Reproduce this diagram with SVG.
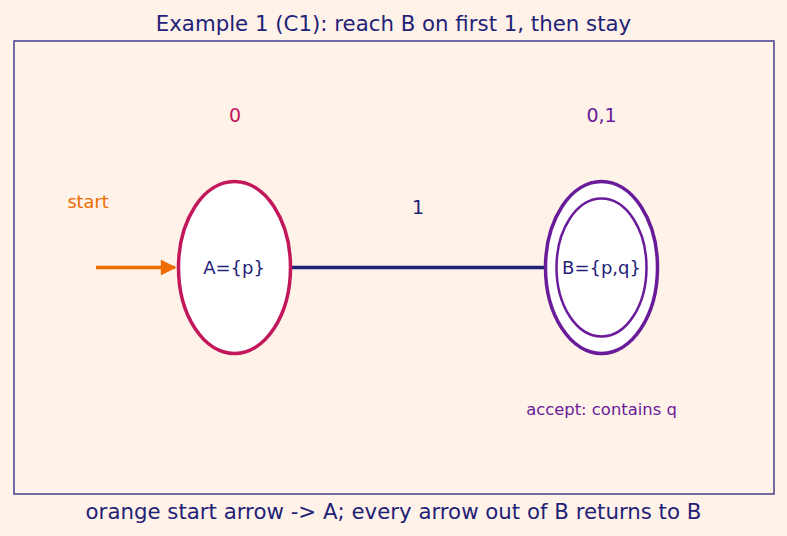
<svg xmlns="http://www.w3.org/2000/svg" width="787" height="536" viewBox="0 0 787 536">
<defs>
<marker id="arr" viewBox="0 0 10 10" refX="9" refY="5" markerWidth="5" markerHeight="4.5" orient="auto" markerUnits="strokeWidth">
<path d="M0,0 L10,5 L0,10 z" fill="#ef6c00"/>
</marker>
<style>
text{font-family:"DejaVu Sans",sans-serif;text-anchor:middle;dominant-baseline:central}
.title{font-size:21.3px;fill:#1f2277}
.lbl{font-size:18px;fill:#1f2277}
</style>
</defs>
<rect x="0" y="0" width="787" height="536" fill="#fff2e8"/>
<text class="title" x="393.5" y="23">Example 1 (C1): reach B on first 1, then stay</text>
<rect x="14" y="41" width="760" height="453" fill="none" stroke="#433f8c" stroke-width="1.5"/>
<g id="connectors">
<line x1="96" y1="267.5" x2="175" y2="267.5" stroke="#ef6c00" stroke-width="3.5" marker-end="url(#arr)"/>
<line x1="291" y1="267.5" x2="545" y2="267.5" stroke="#1f2277" stroke-width="3.5"/>
<text x="418" y="207" style="font-size:19px;fill:#1f2277">1</text>
<text x="88" y="202" style="font-size:17.7px;fill:#ef6c00">start</text>
<text x="235" y="115" style="font-size:19px;fill:#c2185b">0</text>
<text x="601.5" y="115" style="font-size:19px;fill:#6a1b9a">0,1</text>
</g>
<g id="A">
<ellipse cx="234.5" cy="267.5" rx="56" ry="86" fill="#ffffff" stroke="#c2185b" stroke-width="3.5"/>
<text class="lbl" x="234" y="267.5">A={p}</text>
</g>
<g id="B">
<ellipse cx="601.5" cy="267.5" rx="56" ry="86" fill="#ffffff" stroke="#6a1b9a" stroke-width="3.5"/>
<ellipse cx="601.5" cy="267.5" rx="45" ry="69" fill="none" stroke="#6a1b9a" stroke-width="2.5"/>
<text class="lbl" x="601.5" y="267.5">B={p,q}</text>
<text x="601.5" y="409" style="font-size:16.4px;fill:#6a1b9a">accept: contains q</text>
</g>
<text class="title" x="393.5" y="511">orange start arrow -&gt; A; every arrow out of B returns to B</text>
</svg>
